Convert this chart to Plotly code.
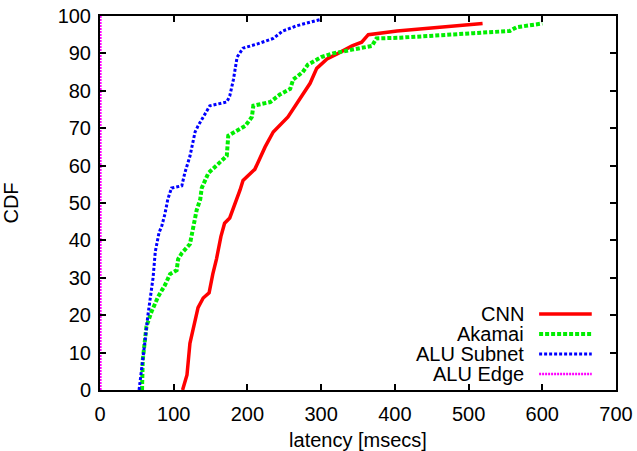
import plotly.graph_objects as go

# ---- data (latency in msecs, CDF in percent) ----
cnn_x = [112, 118, 122, 129, 133, 140, 148, 153, 158, 164, 169, 176, 180, 190, 194, 210,
         224, 235, 255, 267, 285, 294, 308, 323, 342, 355, 364, 403, 519]
cnn_y = [0, 4, 12.5, 18, 22, 24.6, 26, 31, 35, 41, 44.6, 46, 48, 53.5, 56, 59,
         65, 69, 73, 76.5, 82, 86, 88.5, 90, 92, 93, 95, 96, 98]

akamai_x = [57, 58, 63, 70, 79, 88, 95, 104, 106, 111, 122, 126, 131, 136, 138, 147, 163,
            172, 174, 197, 206, 208, 231, 244, 258, 262, 275, 282, 300, 316, 342, 369,
            375, 407, 507, 556, 565, 600]
akamai_y = [0, 8, 17, 21, 25, 28, 31, 32, 35, 36.6, 39, 43, 48, 51, 54, 58, 61,
            62.6, 68, 70.6, 73, 76, 77, 79, 80.5, 83, 85, 87, 89, 90, 91, 92,
            94, 94.2, 95.4, 96, 97, 98]

subnet_x = [53, 57, 61, 65, 68, 72, 75, 80, 84, 88, 92, 97, 111, 115, 122, 129, 133, 140,
            149, 172, 176, 181, 186, 194, 213, 235, 248, 267, 298]
subnet_y = [0, 6, 13, 20, 25, 30, 37, 42, 44, 47, 51, 54, 54.6, 58, 62.5, 69, 70.6, 73,
            76, 77, 78.6, 83, 89, 91.4, 92.5, 94, 96, 97.4, 99]

edge_x = [0.5, 0.5]
edge_y = [0, 100]

names = ["CNN", "Akamai", "ALU Subnet", "ALU Edge"]
x_ticks = [0, 100, 200, 300, 400, 500, 600, 700]
y_ticks = [0, 10, 20, 30, 40, 50, 60, 70, 80, 90, 100]

colors = ["#ff0000", "#00ee00", "#0000ff", "#ff00ff"]
widths = [3.5, 4, 3, 2.5]
dashes = ["solid", "4px,2px", "3px,2px", "2px,1px"]

FONT = "Liberation Sans, Arial, sans-serif"
FS = 20

fig = go.Figure()
series = [(cnn_x, cnn_y), (akamai_x, akamai_y), (subnet_x, subnet_y), (edge_x, edge_y)]
for (xs, ys), n, c, w, d in zip(series, names, colors, widths, dashes):
    fig.add_trace(go.Scatter(x=xs, y=ys, mode="lines", name=n,
                             line=dict(color=c, width=w, dash=d),
                             cliponaxis=False, showlegend=False))

# gnuplot-style legend: text right-aligned, sample line on the right
leg_text_x = 0.826
leg_line_x0, leg_line_x1 = 0.851, 0.953
leg_rows = [0.203, 0.150, 0.0963, 0.0428]
for n, c, w, d, yy in zip(names, colors, widths, dashes, leg_rows):
    fig.add_annotation(x=leg_text_x, y=yy, xref="paper", yref="paper", text=n,
                       showarrow=False, xanchor="right", yanchor="middle",
                       font=dict(family=FONT, size=FS, color="#000000"))
    fig.add_shape(type="line", xref="paper", yref="paper",
                  x0=leg_line_x0, x1=leg_line_x1, y0=yy, y1=yy,
                  line=dict(color=c, width=w, dash=d))

axis_common = dict(showgrid=False, zeroline=False, showline=True, linecolor="#000000",
                   linewidth=2, mirror="allticks", ticks="inside", ticklen=6,
                   tickwidth=1.5, tickcolor="#000000", automargin=False,
                   tickfont=dict(family=FONT, size=FS, color="#000000"))

fig.update_layout(
    template="none",
    width=637, height=451,
    margin=dict(l=100, r=21, t=16, b=61, pad=0),
    paper_bgcolor="#ffffff", plot_bgcolor="#ffffff",
    font=dict(family=FONT, size=FS, color="#000000"),
    xaxis=dict(range=[0, 700], tickvals=x_ticks, ticktext=[str(v) for v in x_ticks],
               ticklabelstandoff=5,
               title=dict(text="latency [msecs]", standoff=10,
                          font=dict(family=FONT, size=FS)),
               **axis_common),
    yaxis=dict(range=[0, 100], tickvals=y_ticks, ticktext=[str(v) for v in y_ticks],
               ticklabelstandoff=3,
               title=dict(text="CDF", standoff=35, font=dict(family=FONT, size=FS)),
               **axis_common),
)

fig.write_html("out.html",
               config={"displayModeBar": False},
               post_script="document.body.style.margin='0';document.body.style.overflow='hidden';")
